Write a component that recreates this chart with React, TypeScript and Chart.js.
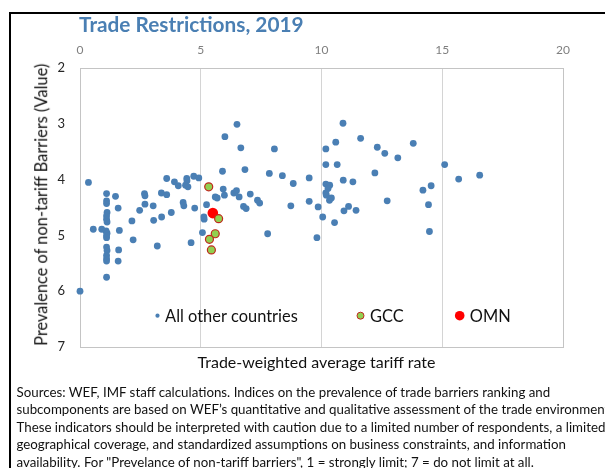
import React, { useEffect, useRef } from "react";
import { Chart, registerables } from "chart.js";

Chart.register(...registerables);

const TITLE = "Trade Restrictions, 2019";
const X_TITLE = "Trade-weighted average tariff rate";
const Y_TITLE = "Prevalence of non-tariff Barriers (Value)";
const FOOTNOTE_LINES = [
  "Sources: WEF, IMF staff calculations. Indices on the prevalence of trade barriers ranking and",
  "subcomponents are based on WEF\u2019s quantitative and qualitative assessment of the trade environment.",
  "These indicators should be interpreted with caution due to a limited number of respondents, a limited",
  "geographical coverage, and standardized assumptions on business constraints, and information",
  "availability. For \"Prevelance of non-tariff barriers\", 1 = strongly limit; 7 = do not limit at all.",
];

const SERIES_NAMES = ["All other countries", "GCC", "OMN"];

const X_TICKS = [0, 5, 10, 15, 20];
const Y_TICKS = [2, 3, 4, 5, 6, 7];

const otherX = [
  0.0, 0.35, 0.55, 0.9,
  1.1, 1.1, 1.1, 1.12, 1.1, 1.1, 1.12, 1.08, 1.12, 1.1, 1.1, 1.1, 1.12, 1.1, 1.1, 1.1, 1.1,
  1.47, 1.58, 1.63, 1.6, 1.58,
  2.15, 2.2, 2.47, 2.67, 2.69, 2.69, 3.03, 3.05, 3.2, 3.37, 3.38, 3.59, 3.59, 3.78, 3.91,
  4.07, 4.27, 4.3, 4.42, 4.43, 4.37, 4.47, 4.71, 4.92, 4.75, 4.6,
  5.07, 5.13, 5.14, 5.24, 5.6, 5.68, 5.9, 5.93, 5.98, 6.0, 6.5,
  6.66, 8.05, 6.83, 7.84, 8.38, 8.83, 9.49, 6.37, 6.48, 6.59, 7.05, 7.35, 7.44, 6.77, 6.88,
  7.77, 8.73, 9.49, 9.86, 10.05, 9.81, 10.54, 10.18, 10.59, 10.89, 11.62, 12.31, 10.18, 10.65,
  12.21, 10.18, 10.34, 10.27, 10.18, 10.2, 10.33, 10.41, 10.9, 11.3, 10.93, 11.12, 11.43,
  12.62, 13.16, 13.8, 12.72, 14.2, 14.54, 14.43, 14.47, 15.1, 15.68, 16.55,
];
const otherY = [
  6.0, 4.05, 4.89, 4.89,
  4.25, 4.38, 4.43, 4.59, 4.65, 4.71, 4.76, 4.92, 4.96, 5.0, 5.04, 5.21, 5.27, 5.36, 5.42, 5.46, 5.75,
  4.3, 4.51, 4.91, 5.26, 5.46,
  4.74, 5.08, 4.55, 4.25, 4.29, 4.44, 4.47, 4.73, 5.19, 4.24, 4.67, 4.27, 3.98, 4.59, 4.04,
  4.11, 4.41, 4.47, 3.98, 4.02, 4.1, 4.13, 3.94, 3.97, 4.51, 5.13,
  4.95, 4.67, 4.71, 4.45, 4.31, 4.33, 3.85, 4.17, 4.28, 3.23, 3.01,
  3.43, 3.45, 3.82, 3.89, 3.93, 4.07, 3.97, 4.24, 4.2, 4.31, 4.26, 4.37, 4.42, 4.48, 4.52,
  4.97, 4.47, 4.39, 4.49, 4.67, 5.04, 4.77, 3.45, 3.33, 2.99, 3.26, 3.42, 3.73, 3.73,
  3.88, 4.08, 4.1, 4.16, 4.24, 4.28, 4.37, 4.33, 4.01, 4.04, 4.56, 4.48, 4.55,
  3.53, 3.61, 3.35, 4.38, 4.19, 4.11, 4.45, 4.93, 3.73, 3.99, 3.92,
];

const gccX = [5.33, 5.74, 5.6, 5.36, 5.44];
const gccY = [4.13, 4.7, 4.97, 5.07, 5.26];

const omnX = [5.5];
const omnY = [4.6];

const FONT = "Lato, 'Open Sans', sans-serif";

function toPoints(xs: number[], ys: number[]) {
  return xs.map((x, i) => ({ x, y: ys[i] }));
}

const frameAndLegend = {
  id: "frameAndLegend",
  beforeDatasetsDraw(chart: any) {
    const { ctx, chartArea } = chart;
    ctx.save();
    ctx.strokeStyle = "#c4c4c4";
    ctx.lineWidth = 1;
    ctx.strokeRect(
      Math.round(chartArea.left) + 0.5,
      Math.round(chartArea.top) + 0.5,
      Math.round(chartArea.right - chartArea.left),
      Math.round(chartArea.bottom - chartArea.top)
    );
    ctx.restore();
  },
  afterDraw(chart: any) {
    const { ctx, chartArea } = chart;
    const items = [
      { dx: 77.5, r: 2.1, gap: 5.5 },
      { dx: 280.5, r: 3.5, gap: 6 },
      { dx: 379.7, r: 4.8, gap: 5.3 },
    ];
    const cy = 315.7;
    ctx.save();
    ctx.font = `16.4px ${FONT}`;
    ctx.textBaseline = "alphabetic";
    ctx.textAlign = "left";
    chart.data.datasets.forEach((ds: any, i: number) => {
      const it = items[i];
      const cx = chartArea.left + it.dx;
      ctx.beginPath();
      ctx.arc(cx, cy, it.r, 0, Math.PI * 2);
      ctx.fillStyle = ds.backgroundColor;
      ctx.fill();
      if (ds.borderWidth) {
        ctx.lineWidth = 1;
        ctx.strokeStyle = ds.borderColor;
        ctx.stroke();
      }
      ctx.fillStyle = "#111";
      ctx.fillText(ds.label, cx + it.r + it.gap, cy + 5.9);
    });
    ctx.restore();
  },
};

export default function App() {
  const canvasRef = useRef<HTMLCanvasElement | null>(null);

  useEffect(() => {
    if (!canvasRef.current) return;
    const chart = new Chart(canvasRef.current, {
      type: "scatter",
      data: {
        datasets: [
          {
            label: SERIES_NAMES[0],
            data: toPoints(otherX, otherY),
            backgroundColor: "#4a7fb4",
            borderWidth: 0,
            pointRadius: 3.4,
            clip: false,
          },
          {
            label: SERIES_NAMES[1],
            data: toPoints(gccX, gccY),
            backgroundColor: "#92d050",
            borderColor: "#c0281e",
            borderWidth: 1.2,
            pointRadius: 4,
            clip: false,
          },
          {
            label: SERIES_NAMES[2],
            data: toPoints(omnX, omnY),
            backgroundColor: "#ff0000",
            borderWidth: 0,
            pointRadius: 5.3,
            clip: false,
          },
        ],
      },
      options: {
        responsive: false,
        animation: false,
        devicePixelRatio: 1,
        layout: { padding: { left: 0, top: 0, right: 42, bottom: 121 } },
        plugins: {
          legend: { display: false },
          tooltip: { enabled: false },
          title: { display: false },
        },
        scales: {
          x: {
            type: "linear",
            position: "top",
            min: X_TICKS[0],
            max: X_TICKS[X_TICKS.length - 1],
            afterBuildTicks: (scale: any) => {
              scale.ticks = X_TICKS.map((v) => ({ value: v }));
            },
            afterFit: (scale: any) => {
              scale.height = 68;
            },
            ticks: {
              color: "#7f7f7f",
              font: { family: FONT, size: 12 },
              padding: 10.5,
              maxRotation: 0,
            },
            grid: { color: "#d4d4d4", drawTicks: false, lineWidth: 1 },
            border: { display: true, color: "#c4c4c4" },
          },
          y: {
            type: "linear",
            reverse: true,
            min: Y_TICKS[0],
            max: Y_TICKS[Y_TICKS.length - 1],
            afterBuildTicks: (scale: any) => {
              scale.ticks = Y_TICKS.map((v) => ({ value: v }));
            },
            afterFit: (scale: any) => {
              scale.width = 80;
            },
            ticks: {
              color: "#262626",
              font: { family: FONT, size: 13 },
              padding: 15,
            },
            grid: { display: false, drawTicks: false },
            border: { display: true, color: "#c4c4c4" },
          },
        },
      },
      plugins: [frameAndLegend],
    } as any);
    return () => chart.destroy();
  }, []);

  const wrap: React.CSSProperties = {
    position: "fixed",
    left: 0,
    top: 0,
    width: 605,
    height: 468,
    overflow: "hidden",
    background: "#fff",
    fontFamily: FONT,
  };

  return (
    <div style={wrap}>
      <div
        style={{
          position: "absolute",
          left: 9,
          top: 12,
          width: 800,
          height: 800,
          border: "2px solid #000",
          boxSizing: "border-box",
        }}
      />
      <canvas
        ref={canvasRef}
        width={605}
        height={468}
        style={{ position: "absolute", left: 0, top: 0, width: 605, height: 468 }}
      />
      <div
        style={{
          position: "absolute",
          left: 79,
          top: 12,
          fontSize: 20.8,
          lineHeight: "24.6px",
          fontWeight: 700,
          color: "#4a7fb3",
          whiteSpace: "nowrap",
        }}
      >
        {TITLE}
      </div>
      <div
        style={{
          position: "absolute",
          left: 316.5 - 200,
          width: 400,
          textAlign: "center",
          top: 352,
          fontSize: 16,
          lineHeight: "19.2px",
          color: "#111",
          whiteSpace: "nowrap",
        }}
      >
        {X_TITLE}
      </div>
      <div
        style={{
          position: "absolute",
          left: 40.5 - 160,
          top: 204.5 - 9.8,
          width: 320,
          height: 19.6,
          fontSize: 16.4,
          lineHeight: "19.6px",
          color: "#111",
          textAlign: "center",
          whiteSpace: "nowrap",
          transform: "rotate(-90deg)",
          transformOrigin: "50% 50%",
        }}
      >
        {Y_TITLE}
      </div>
      <div
        style={{
          position: "absolute",
          left: 16.5,
          top: 383.5,
          fontSize: 13.3,
          lineHeight: "17.5px",
          color: "#111",
          whiteSpace: "pre",
        }}
      >
        {FOOTNOTE_LINES.map((l, i) => (
          <div key={i}>{l}</div>
        ))}
      </div>
    </div>
  );
}
